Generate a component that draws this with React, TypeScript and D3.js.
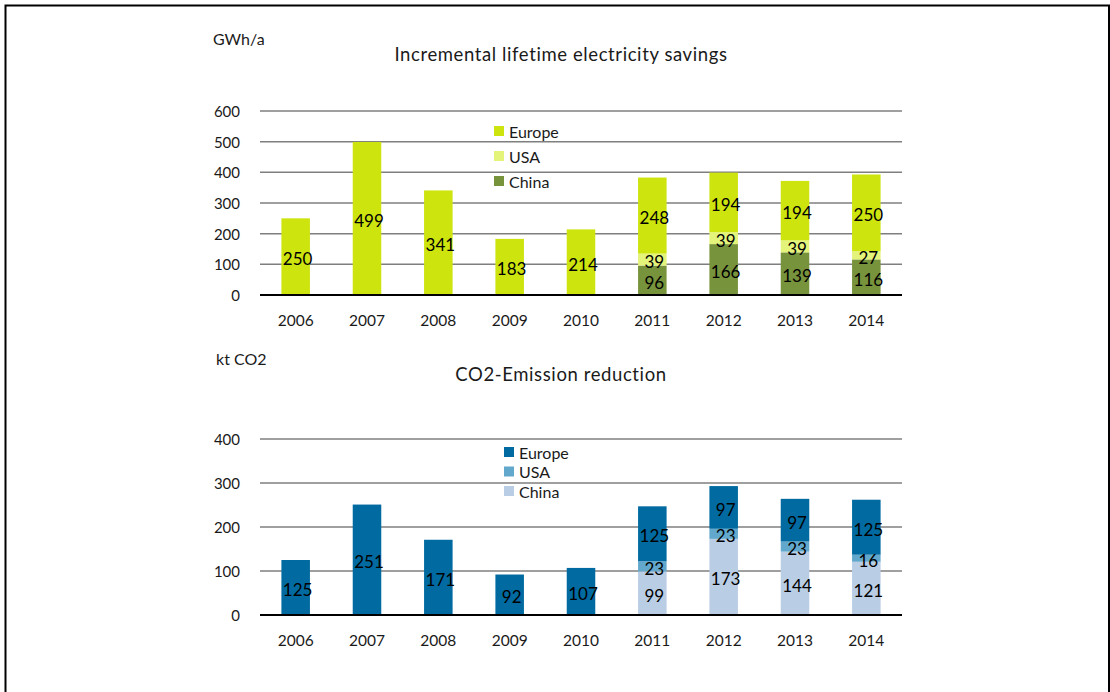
import React, { useEffect, useRef } from 'react';
import * as d3 from 'd3';

const years = ['2006', '2007', '2008', '2009', '2010', '2011', '2012', '2013', '2014'];
const seriesNames = ['Europe', 'USA', 'China'];

// electricity savings, GWh/a
const elecEurope = [250, 499, 341, 183, 214, 248, 194, 194, 250];
const elecUSA = [0, 0, 0, 0, 0, 39, 39, 39, 27];
const elecChina = [0, 0, 0, 0, 0, 96, 166, 139, 116];
const elecTicks = [0, 100, 200, 300, 400, 500, 600];

// CO2 reduction, kt
const co2Europe = [125, 251, 171, 92, 107, 125, 97, 97, 125];
const co2USA = [0, 0, 0, 0, 0, 23, 23, 23, 16];
const co2China = [0, 0, 0, 0, 0, 99, 173, 144, 121];
const co2Ticks = [0, 100, 200, 300, 400];

const FONT = 'Lato, "Open Sans", sans-serif';

function drawPanel(svg, opts) {
  const { top, bottom, maxVal, ticks, europe, usa, china, colors, unit, unitX, unitY, title, titleY, legendX, legendY, legendStep, legendSize } = opts;
  const left = 260;
  const right = 902;

  const x = d3.scaleBand().domain(years).range([left, right]).paddingInner(0.6).paddingOuter(0.3);
  const y = d3.scaleLinear().domain([0, maxVal]).range([bottom, top]);

  const g = svg.append('g');

  // gridlines
  g.selectAll('.grid')
    .data(ticks.filter(t => t > 0))
    .enter().append('line')
    .attr('x1', left).attr('x2', right)
    .attr('y1', d => y(d)).attr('y2', d => y(d))
    .attr('stroke', '#7f7f7f')
    .attr('stroke-width', 1.5);

  // stacked bars: China at bottom, then USA, then Europe
  const rows = years.map((yr, i) => ({ year: yr, China: china[i], USA: usa[i], Europe: europe[i] }));
  const stack = d3.stack().keys(['China', 'USA', 'Europe'])(rows);
  const colorOf = { Europe: colors[0], USA: colors[1], China: colors[2] };

  stack.forEach(layer => {
    g.selectAll(null)
      .data(layer.filter(d => d[1] - d[0] > 0))
      .enter().append('rect')
      .attr('x', d => x(d.data.year))
      .attr('width', x.bandwidth())
      .attr('y', d => y(d[1]))
      .attr('height', d => y(d[0]) - y(d[1]))
      .attr('fill', colorOf[layer.key]);
  });

  stack.forEach(layer => {
    g.selectAll(null)
      .data(layer.filter(d => d[1] - d[0] > 0))
      .enter().append('text')
      .attr('x', d => x(d.data.year) + x.bandwidth() / 2 + 2)
      .attr('y', d => (y(d[0]) + y(d[1])) / 2 + 2)
      .attr('text-anchor', 'middle')
      .attr('dominant-baseline', 'central')
      .attr('font-family', FONT)
      .attr('font-size', 17)
      .attr('fill', '#000')
      .text(d => d[1] - d[0]);
  });

  // baseline
  g.append('line')
    .attr('x1', left).attr('x2', right)
    .attr('y1', y(0)).attr('y2', y(0))
    .attr('stroke', '#000')
    .attr('stroke-width', 2);

  // y tick labels
  g.selectAll('.ytick')
    .data(ticks)
    .enter().append('text')
    .attr('x', 240)
    .attr('y', d => y(d))
    .attr('text-anchor', 'end')
    .attr('dominant-baseline', 'central')
    .attr('font-family', FONT)
    .attr('font-size', 15)
    .attr('fill', '#1a1a1a')
    .text(d => d);

  // x labels
  g.selectAll('.xtick')
    .data(years)
    .enter().append('text')
    .attr('x', d => x(d) + x.bandwidth() / 2)
    .attr('y', bottom + 25)
    .attr('text-anchor', 'middle')
    .attr('dominant-baseline', 'central')
    .attr('font-family', FONT)
    .attr('font-size', 15.5)
    .attr('fill', '#1a1a1a')
    .text(d => d);

  g.append('text')
    .attr('x', unitX).attr('y', unitY)
    .attr('font-family', FONT).attr('font-size', 16).attr('fill', '#1a1a1a')
    .text(unit);

  g.append('text')
    .attr('x', 561).attr('y', titleY)
    .attr('text-anchor', 'middle')
    .attr('font-family', FONT).attr('font-size', 18.5)
    .attr('letter-spacing', 0.6)
    .attr('fill', '#1a1a1a')
    .text(title);

  // legend
  const legend = g.selectAll('.legend')
    .data(seriesNames)
    .enter().append('g')
    .attr('transform', (d, i) => `translate(${legendX},${legendY + i * legendStep})`);

  legend.append('rect')
    .attr('x', 0).attr('y', -legendSize / 2)
    .attr('width', legendSize).attr('height', legendSize)
    .attr('fill', d => colorOf[d]);

  legend.append('text')
    .attr('x', legendSize + 5).attr('y', 0)
    .attr('dominant-baseline', 'central')
    .attr('font-family', FONT).attr('font-size', 16).attr('fill', '#1a1a1a')
    .text(d => d);
}

function App() {
  const svgRef = useRef(null);

  useEffect(() => {
    const svg = d3.select(svgRef.current);
    svg.selectAll('*').remove();

    svg.append('path')
      .attr('d', 'M5.5,700 V5.5 H1109 V700')
      .attr('fill', 'none')
      .attr('stroke', '#000')
      .attr('stroke-width', 2);

    drawPanel(svg, {
      top: 111, bottom: 295, maxVal: 600, ticks: elecTicks,
      europe: elecEurope, usa: elecUSA, china: elecChina,
      colors: ['#cde40f', '#e4f37a', '#77933c'],
      unit: 'GWh/a', unitX: 213, unitY: 45,
      title: 'Incremental lifetime electricity savings', titleY: 61,
      legendX: 494, legendY: 131, legendStep: 25, legendSize: 10,
    });

    drawPanel(svg, {
      top: 439, bottom: 615, maxVal: 400, ticks: co2Ticks,
      europe: co2Europe, usa: co2USA, china: co2China,
      colors: ['#006aa1', '#62a8cc', '#b9cde5'],
      unit: 'kt CO2', unitX: 216, unitY: 365,
      title: 'CO2-Emission reduction', titleY: 381,
      legendX: 504, legendY: 452, legendStep: 19.5, legendSize: 10,
    });
  }, []);

  return (
    <svg ref={svgRef} width={1110} height={692}
      style={{ position: 'absolute', left: 0, top: 0, background: '#fff' }} />
  );
}

export default App;
